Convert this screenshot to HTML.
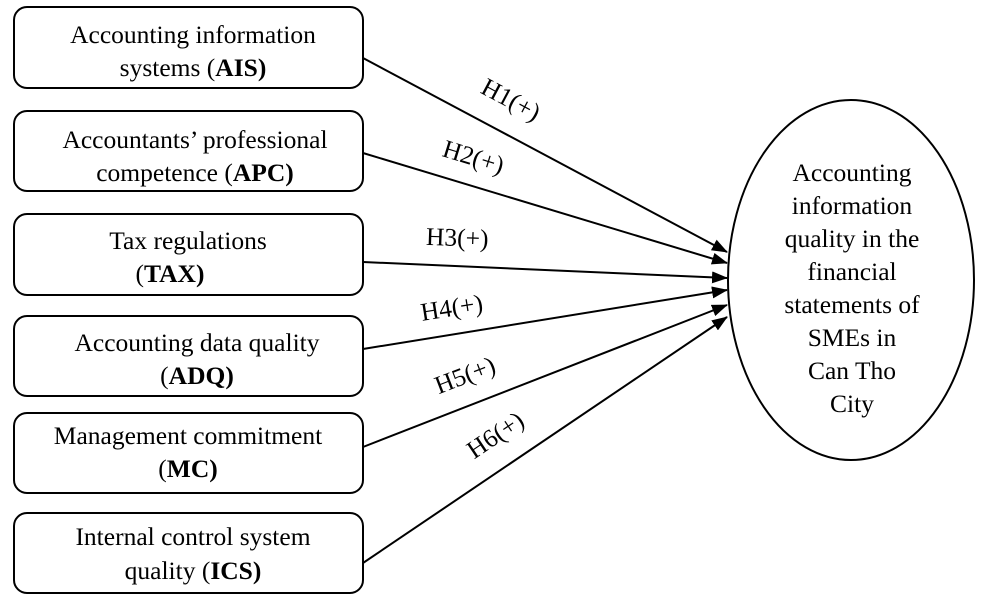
<!DOCTYPE html>
<html><head><meta charset="utf-8"><style>
html,body{margin:0;padding:0;background:#fff;}
svg{display:block;font-family:"Liberation Serif",serif;}
</style></head><body>
<svg width="987" height="603" viewBox="0 0 987 603" xmlns="http://www.w3.org/2000/svg">
<defs>
<marker id="b" markerWidth="16" markerHeight="12" refX="15" refY="6" orient="auto" markerUnits="userSpaceOnUse"><path d="M0,0 L16,6 L0,12 Z" fill="#000"/></marker></defs>
<g fill="#fff" stroke="#000" stroke-width="2">
<rect x="14" y="7" width="349" height="81" rx="13"/>
<rect x="14" y="111" width="349" height="80" rx="13"/>
<rect x="14" y="214" width="349" height="81" rx="13"/>
<rect x="14" y="316" width="349" height="80" rx="13"/>
<rect x="14" y="413" width="349" height="80" rx="13"/>
<rect x="14" y="513" width="349" height="80" rx="13"/>
<ellipse cx="851" cy="280" rx="123" ry="180"/>
</g>
<g stroke="#000" stroke-width="2" marker-end="url(#b)">
<line x1="363" y1="58" x2="727" y2="252"/>
<line x1="363" y1="153" x2="727" y2="263"/>
<line x1="363" y1="262" x2="727" y2="278"/>
<line x1="363" y1="349" x2="727" y2="290"/>
<line x1="363" y1="447" x2="727" y2="305"/>
<line x1="363" y1="563" x2="727" y2="317"/>
</g>
<g font-size="25.5" text-anchor="middle" fill="#000">
<text x="193" y="43">Accounting information</text>
<text x="193" y="76">systems (<tspan font-weight="bold">AIS)</tspan></text>
<text x="195" y="148">Accountants’ professional</text>
<text x="195" y="181">competence (<tspan font-weight="bold">APC)</tspan></text>
<text x="188" y="249">Tax regulations</text>
<text x="170" y="282">(<tspan font-weight="bold">TAX)</tspan></text>
<text x="197" y="351">Accounting data quality</text>
<text x="197" y="384">(<tspan font-weight="bold">ADQ)</tspan></text>
<text x="188" y="444">Management commitment</text>
<text x="188" y="477">(<tspan font-weight="bold">MC)</tspan></text>
<text x="193" y="545">Internal control system</text>
<text x="193" y="579">quality (<tspan font-weight="bold">ICS)</tspan></text>
<text x="852" y="181">Accounting</text>
<text x="852" y="214">information</text>
<text x="852" y="247">quality in the</text>
<text x="852" y="280">financial</text>
<text x="852" y="313">statements of</text>
<text x="852" y="346">SMEs in</text>
<text x="852" y="379">Can Tho</text>
<text x="852" y="412">City</text>
<text transform="translate(507,107) rotate(28)">H1(+)</text>
<text transform="translate(471,165) rotate(17)">H2(+)</text>
<text transform="translate(457,246) rotate(2)">H3(+)</text>
<text transform="translate(453,316) rotate(-9)">H4(+)</text>
<text transform="translate(468,383) rotate(-21)">H5(+)</text>
<text transform="translate(500,442) rotate(-34)">H6(+)</text>
</g>
</svg>
</body></html>
